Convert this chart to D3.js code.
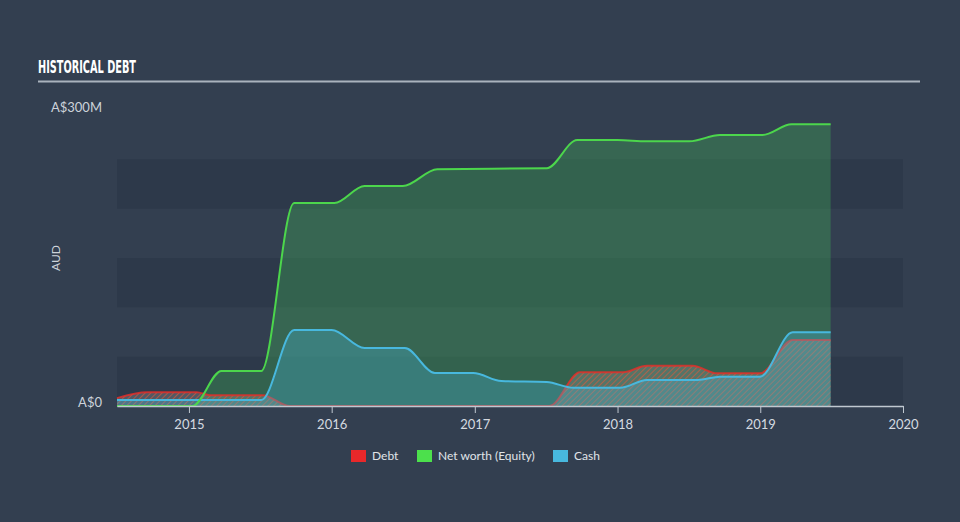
<!DOCTYPE html>
<html>
<head>
<meta charset="utf-8">
<script src="https://cdn.jsdelivr.net/npm/d3@7"></script>
<style>
  body { margin: 0; background: #333f50; }
  #chart { width: 960px; height: 522px; }
</style>
</head>
<body>
<div id="chart"></div>
<script>
// values in A$ millions
const equityDates = ['2014-07-01', '2015-01-10', '2015-03-25', '2015-07-05', '2015-09-27', '2016-01-08', '2016-03-25', '2016-07-01', '2016-09-27', '2017-07-04', '2017-09-20', '2018-01-01', '2018-03-17', '2018-07-04', '2018-09-20', '2019-01-07', '2019-03-22', '2019-06-30'];
const equityValues = [0, 0, 35.5, 35.5, 205.7, 205.7, 223, 223, 240, 241, 269.6, 269.6, 268.3, 268.3, 274.7, 274.7, 285.5, 285.5];

const cashDates = ['2014-07-01', '2015-07-05', '2015-09-27', '2016-01-01', '2016-03-25', '2016-07-06', '2016-09-21', '2016-12-28', '2017-03-10', '2017-07-04', '2017-09-10', '2018-01-08', '2018-03-17', '2018-07-25', '2018-09-20', '2018-12-31', '2019-03-25', '2019-06-30'];
const cashValues = [6, 6, 77, 77, 58.8, 58.8, 33.4, 33.4, 25.3, 24.3, 18.5, 18.5, 26.4, 26.4, 29.7, 29.7, 74.7, 74.7];

const debtDates = ['2014-07-01', '2014-09-16', '2015-01-21', '2015-02-24', '2015-07-08', '2015-09-16', '2017-07-11', '2017-09-27', '2018-01-15', '2018-03-17', '2018-07-12', '2018-09-13', '2018-12-31', '2019-03-25', '2019-06-30'];
const debtValues = [8, 14, 14, 11, 11, 0, 0, 34.2, 34.2, 40.8, 40.8, 33.1, 33.1, 66.9, 66.9];

const yearTicks = ['2015', '2016', '2017', '2018', '2019', '2020'];
const yLabels = ['A$0', 'A$300M'];
const legendItems = ['Debt', 'Net worth (Equity)', 'Cash'];

const parse = d3.timeParse('%Y-%m-%d');
const toSeries = (dates, values) => dates.map((d, i) => ({ date: parse(d), value: values[i] }));
const equity = toSeries(equityDates, equityValues);
const cash = toSeries(cashDates, cashValues);
const debt = toSeries(debtDates, debtValues);

const width = 960, height = 522;
const plotLeft = 117, plotRight = 903, plotTop = 110, plotBottom = 406;

const svg = d3.select('#chart').append('svg')
    .attr('width', width)
    .attr('height', height);

svg.append('rect').attr('width', width).attr('height', height).attr('fill', '#333f50');

const x = d3.scaleTime()
    .domain([parse('2014-07-01'), parse('2020-01-01')])
    .range([plotLeft, plotRight]);
const y = d3.scaleLinear().domain([0, 300]).range([plotBottom, plotTop]);

// hatch pattern for debt
const defs = svg.append('defs');
const pat = defs.append('pattern')
    .attr('id', 'hatch')
    .attr('patternUnits', 'userSpaceOnUse')
    .attr('width', 4).attr('height', 4)
    .attr('patternTransform', 'rotate(45)');
pat.append('rect').attr('width', 4).attr('height', 4).attr('fill', 'rgba(150,150,150,0.35)');
pat.append('line').attr('x1', 0).attr('y1', 0).attr('x2', 0).attr('y2', 4)
    .attr('stroke', 'rgba(222,90,60,0.7)').attr('stroke-width', 1.8);

// title
svg.append('text')
    .attr('x', 38).attr('y', 73)
    .attr('font-family', '"DejaVu Sans Condensed", "Liberation Sans Narrow", sans-serif')
    .attr('font-weight', 'bold')
    .attr('font-size', '17px')
    .attr('textLength', 98)
    .attr('lengthAdjust', 'spacingAndGlyphs')
    .attr('fill', '#ffffff')
    .text('HISTORICAL DEBT');
svg.append('line')
    .attr('x1', 38).attr('x2', 920).attr('y1', 81.5).attr('y2', 81.5)
    .attr('stroke', '#aab3bd').attr('stroke-width', 2);

// darker bands every other 50M
[0, 100, 200].forEach(v => {
    svg.append('rect')
        .attr('x', plotLeft).attr('width', plotRight - plotLeft)
        .attr('y', y(v + 50)).attr('height', y(v) - y(v + 50))
        .attr('fill', '#2d394a');
});

const curve = d3.curveMonotoneX;
const area = d3.area().x(d => x(d.date)).y0(y(0)).y1(d => y(d.value)).curve(curve);
const line = d3.line().x(d => x(d.date)).y(d => y(d.value)).curve(curve);

// equity
svg.append('path').datum(equity).attr('d', area).attr('fill', 'rgba(70,205,90,0.28)');
// debt
svg.append('path').datum(debt).attr('d', area).attr('fill', 'url(#hatch)');
svg.append('path').datum(debt).attr('d', line)
    .attr('fill', 'none').attr('stroke', 'rgba(232,45,40,0.8)').attr('stroke-width', 2);
// cash
svg.append('path').datum(cash).attr('d', area).attr('fill', 'rgba(72,184,222,0.3)');
svg.append('path').datum(cash).attr('d', line)
    .attr('fill', 'none').attr('stroke', '#48b8de').attr('stroke-width', 2);
svg.append('path').datum(equity).attr('d', line)
    .attr('fill', 'none').attr('stroke', '#4cd64c').attr('stroke-width', 2);

// x axis
const xAxis = d3.axisBottom(x)
    .tickValues(yearTicks.map(t => parse(t + '-01-01')))
    .tickFormat(d3.timeFormat('%Y'))
    .tickSize(7)
    .tickSizeOuter(0);
const gx = svg.append('g').attr('transform', `translate(0,${plotBottom})`).call(xAxis);
gx.select('.domain').attr('stroke', '#c0c8d0').attr('stroke-width', 1.5);
gx.selectAll('.tick line').attr('stroke', '#c0c8d0');
gx.selectAll('.tick text')
    .attr('fill', '#d5dae0')
    .attr('font-family', 'Lato, sans-serif')
    .attr('font-size', '13px')
    .attr('dy', '1.0em');

// y labels
svg.selectAll('.ylab').data(yLabels).enter().append('text')
    .attr('x', 102)
    .attr('y', (d, i) => (i === 0 ? y(0) - 2 : y(300) - 1))
    .attr('text-anchor', 'end')
    .attr('dominant-baseline', 'middle')
    .attr('font-family', 'Lato, sans-serif')
    .attr('font-size', '13px')
    .attr('fill', '#cdd3da')
    .text(d => d);

svg.append('text')
    .attr('transform', 'translate(60,258) rotate(-90)')
    .attr('text-anchor', 'middle')
    .attr('font-family', 'Lato, sans-serif')
    .attr('font-size', '12px')
    .attr('fill', '#cdd3da')
    .text('AUD');

// legend
const legendColors = ['#e8282a', '#4ce04c', '#48b8de'];
const legendX = [351, 417, 553];
const lg = svg.append('g');
legendItems.forEach((name, i) => {
    lg.append('rect')
        .attr('x', legendX[i]).attr('y', 450)
        .attr('width', 15).attr('height', 12)
        .attr('fill', legendColors[i]);
    lg.append('text')
        .attr('x', legendX[i] + 21).attr('y', 460)
        .attr('font-family', 'Lato, sans-serif')
        .attr('font-size', '12px')
        .attr('fill', '#e0e4e8')
        .text(name);
});
</script>
</body>
</html>
